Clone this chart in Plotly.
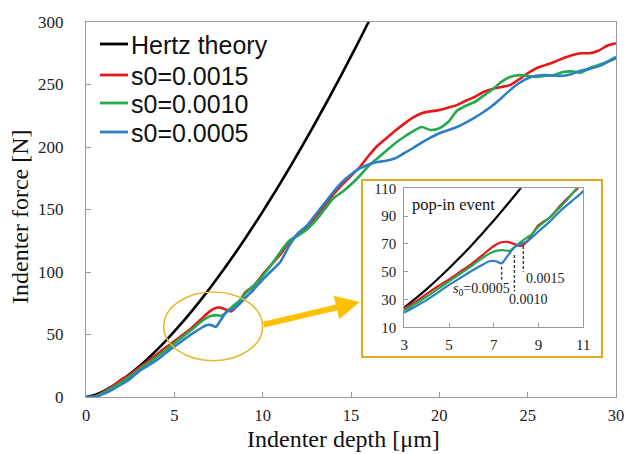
import plotly.graph_objects as go

# ---------------- data ----------------
hertz_depth = [0, 0.5, 1, 1.5, 2, 2.5, 3, 3.5, 4, 4.5, 5, 5.5, 6, 6.5, 7, 7.5, 8, 8.5, 9, 9.5,
               10, 10.5, 11, 11.5, 12, 12.5, 13, 13.5, 14, 14.5, 15, 15.5, 16, 16.5]
hertz_force = [0, 1.66, 4.69, 8.62, 13.27, 18.54, 24.37, 30.71, 37.52, 44.77, 52.44, 60.5, 68.93,
               77.72, 86.86, 96.33, 106.1, 116.2, 126.6, 137.3, 148.3, 159.6, 171.1, 182.9, 195.0,
               207.3, 219.8, 232.6, 245.7, 258.9, 272.5, 286.2, 300.2, 314.3]

red_depth = [0, 0.5, 1, 1.5, 2, 2.5, 3, 3.5, 4, 4.5, 5, 5.5, 6, 6.5, 7, 7.3, 7.6, 7.9, 8.2, 8.5,
             9, 9.5, 10, 10.5, 11, 11.5, 12, 12.5, 13, 13.5, 14, 14.5, 15, 15.5, 16, 16.5, 17,
             17.5, 18, 18.5, 19, 19.5, 20, 20.5, 21, 21.5, 22, 22.5, 23, 23.5, 24, 24.5, 25,
             25.5, 26, 26.5, 27, 27.5, 28, 28.5, 29, 29.5, 30]
red_force = [0, 0.5, 4, 8.5, 14, 18, 23.5, 28.5, 34, 39.5, 44.5, 50, 55.5, 62, 68.5, 71, 71.5,
             70, 68.5, 72, 83.5, 89, 98, 106, 114, 124, 130, 136, 144, 153, 162, 170, 177, 184,
             193, 201, 207, 213, 218.5, 223.5, 227, 228.5, 229.5, 231.5, 233.5, 237, 240, 244,
             246.5, 248, 249.5, 254, 259, 263, 265.5, 268, 271, 273.5, 275, 275, 277, 281, 283]

green_depth = [0, 0.5, 1, 1.5, 2, 2.5, 3, 3.5, 4, 4.5, 5, 5.5, 6, 6.5, 6.8, 7.1, 7.4, 7.7, 7.95,
               8.3, 8.7, 9, 9.5, 10, 10.5, 11, 11.5, 12, 12.5, 13, 13.5, 14, 14.5, 15, 15.5, 16,
               16.5, 17, 17.5, 18, 18.5, 19, 19.5, 20, 20.5, 21, 21.5, 22, 22.5, 23, 23.5, 24,
               24.5, 25, 25.5, 26, 26.5, 27, 27.5, 28, 28.5, 29, 29.5, 30]
green_force = [0, 0.3, 3.5, 7.5, 12, 16.5, 22, 27, 32, 37.5, 43, 48.5, 54, 60, 63, 65, 65.5, 65,
               68, 72.5, 77, 82.5, 89, 97, 106, 116, 125, 129, 134, 141, 150, 159, 164, 170, 177,
               185, 191, 197, 203, 208, 212.5, 216, 213.6, 215, 220, 229, 233, 236, 241, 246, 252,
               256, 257.5, 257, 256, 257, 257.5, 260, 260.5, 259.5, 263, 265.5, 268, 271]

blue_depth = [0, 0.5, 1, 1.5, 2, 2.5, 3, 3.5, 4, 4.5, 5, 5.5, 6, 6.5, 6.8, 7.1, 7.35, 7.6, 7.95,
              8.5, 9, 9.5, 10, 10.5, 11, 11.5, 12, 12.5, 13, 13.5, 14, 14.5, 15, 15.5, 16, 16.5,
              17, 17.5, 18, 18.5, 19, 19.5, 20, 20.5, 21, 21.5, 22, 22.5, 23, 23.5, 24, 24.5, 25,
              25.5, 26, 26.5, 27, 27.5, 28, 28.5, 29, 29.5, 30]
blue_force = [0, 0, 2.5, 6, 10, 14.5, 20.5, 25, 29.5, 35, 40.5, 45.5, 50.5, 55, 57.5, 57.5, 56,
              61, 68, 72, 79, 86, 94, 101, 108, 121, 131, 137, 146, 155, 164, 172, 178, 183,
              186, 188, 189, 191, 195, 199, 203.5, 207.5, 211, 213.5, 216, 219.5, 223.5, 228,
              233, 239, 245.5, 251, 255, 257, 257.5, 257, 257, 258.5, 261, 262.5, 264.5, 268, 272]

series_names = ["Hertz theory", "s0=0.0015", "s0=0.0010", "s0=0.0005"]
series_colors = ["#000000", "#E3191C", "#22AA4C", "#2E7EC6"]

main_xticks = [0, 5, 10, 15, 20, 25, 30]
main_yticks = [0, 50, 100, 150, 200, 250, 300]
inset_xticks = [3, 5, 7, 9, 11]
inset_yticks = [10, 30, 50, 70, 90, 110]

# pop-in markers in the inset: (depth, top force, bottom force, label)
popin_depths = [7.35, 7.92, 8.32]
popin_top = [53.6, 62, 68.5]
popin_bottom = [44, 35.7, 50]
popin_labels = ["<i>s</i><sub>0</sub>=0.0005", "0.0010", "0.0015"]
popin_label_x = [6.43, 8.57, 9.29]
popin_label_y = [37.3, 29.7, 45.3]

# ---------------- geometry helpers (pixel -> paper) ----------------
W, H = 627, 454
ML, MR, MT, MB = 86, 11, 22, 57
PW, PH = W - ML - MR, H - MT - MB


def px(x):
    return (x - ML) / PW


def py(y):
    return (H - MB - y) / PH


# ---------------- figure ----------------
fig = go.Figure()
xs = [hertz_depth, red_depth, green_depth, blue_depth]
ys = [hertz_force, red_force, green_force, blue_force]

for i in range(4):
    fig.add_trace(go.Scatter(x=xs[i], y=ys[i], mode="lines", name=series_names[i],
                             line=dict(color=series_colors[i], width=2.6, shape="spline", smoothing=0.6),
                             xaxis="x", yaxis="y", showlegend=False))
for i in range(4):
    fig.add_trace(go.Scatter(x=xs[i], y=ys[i], mode="lines", name=series_names[i],
                             line=dict(color=series_colors[i], width=2.2, shape="spline", smoothing=0.6),
                             xaxis="x2", yaxis="y2", showlegend=False, hoverinfo="skip"))
for i in range(3):
    fig.add_trace(go.Scatter(x=[popin_depths[i], popin_depths[i]], y=[popin_top[i], popin_bottom[i]],
                             mode="lines", line=dict(color="#444444", width=1.5, dash="3px,2px"),
                             xaxis="x2", yaxis="y2", showlegend=False, hoverinfo="skip"))

axis_gray = "#9A9A9A"
serif = "Liberation Serif"

# inset box (gold frame, white fill)
fig.add_shape(type="rect", xref="paper", yref="paper", x0=px(362), x1=px(602), y0=py(357), y1=py(180),
              line=dict(color="#DDAA22", width=2), fillcolor="white", layer="below")
# ellipse in main plot
fig.add_shape(type="circle", xref="x", yref="y", x0=4.4, x1=10.0, y0=29, y1=84,
              line=dict(color="#E6B830", width=1.6))
# arrow
fig.add_annotation(x=15.5, y=76, ax=9.97, ay=57.6, xref="x", yref="y", axref="x", ayref="y",
                   text="", showarrow=True, arrowhead=2, arrowsize=0.8, arrowwidth=6,
                   arrowcolor="#FFC000")

# legend (drawn as text + line samples)
legend_rows = [44, 75, 103, 132]
for i in range(4):
    fig.add_shape(type="line", xref="paper", yref="paper", x0=px(100), x1=px(128),
                  y0=py(legend_rows[i]), y1=py(legend_rows[i]),
                  line=dict(color=series_colors[i], width=2.8))
    fig.add_annotation(x=px(129), y=py(legend_rows[i] + 1), xref="paper", yref="paper",
                       text=series_names[i], showarrow=False, xanchor="left", yanchor="middle",
                       font=dict(family="Liberation Sans", size=25, color="#111"))

# axis titles
fig.add_annotation(x=px(343), y=py(439), xref="paper", yref="paper", text="Indenter depth [μm]",
                   showarrow=False, xanchor="center", yanchor="middle", borderpad=0,
                   font=dict(family=serif, size=24, color="#111"))
fig.add_annotation(x=px(20), y=py(217), xref="paper", yref="paper", text="Indenter force [N]",
                   showarrow=False, xanchor="center", yanchor="middle", textangle=-90,
                   font=dict(family=serif, size=24, color="#111"))

fig.add_annotation(x=3.25, y=98, xref="x2", yref="y2", text="pop-in event", showarrow=False,
                   xanchor="left", yanchor="middle", font=dict(family=serif, size=16.5, color="#111"))
for i in range(3):
    fig.add_annotation(x=popin_label_x[i], y=popin_label_y[i], xref="x2", yref="y2",
                       text=popin_labels[i], showarrow=False,
                       font=dict(family=serif, size=14, color="#222"))

fig.update_layout(
    width=W, height=H,
    margin=dict(l=ML, r=MR, t=MT, b=MB, autoexpand=False),
    paper_bgcolor="white", plot_bgcolor="white",
    showlegend=False,
    xaxis=dict(domain=[0, 1], range=[0, 30], tickvals=main_xticks, ticks="inside", ticklen=5,
               tickcolor=axis_gray, showline=True, linecolor=axis_gray, linewidth=1.3, mirror=True,
               showgrid=False, zeroline=False, ticklabelstandoff=3, automargin=False,
               tickfont=dict(family=serif, size=16.5, color="#222")),
    yaxis=dict(domain=[0, 1], range=[0, 300], tickvals=main_yticks, ticks="inside", ticklen=5,
               tickcolor=axis_gray, showline=True, linecolor=axis_gray, linewidth=1.3, mirror=True,
               showgrid=False, zeroline=False, ticklabelstandoff=18, automargin=False,
               tickfont=dict(family=serif, size=17, color="#222")),
    xaxis2=dict(domain=[px(404.3), px(583.3)], anchor="y2", range=[3, 11], tickvals=inset_xticks,
                ticks="inside", ticklen=4, tickcolor=axis_gray, showline=True, linecolor=axis_gray,
                linewidth=1.2, mirror=True, showgrid=False, zeroline=False, automargin=False,
                ticklabelstandoff=4, tickfont=dict(family=serif, size=15, color="#222")),
    yaxis2=dict(domain=[py(327.3), py(188.3)], anchor="x2", range=[10, 110], tickvals=inset_yticks,
                ticks="inside", ticklen=4, tickcolor=axis_gray, showline=True, linecolor=axis_gray,
                linewidth=1.2, mirror=True, showgrid=False, zeroline=False, automargin=False,
                ticklabelstandoff=4, tickfont=dict(family=serif, size=15, color="#222")),
)

fig.write_html("out.html", config={"displayModeBar": False},
               post_script="document.body.style.margin='0';document.body.style.overflow='hidden';")
